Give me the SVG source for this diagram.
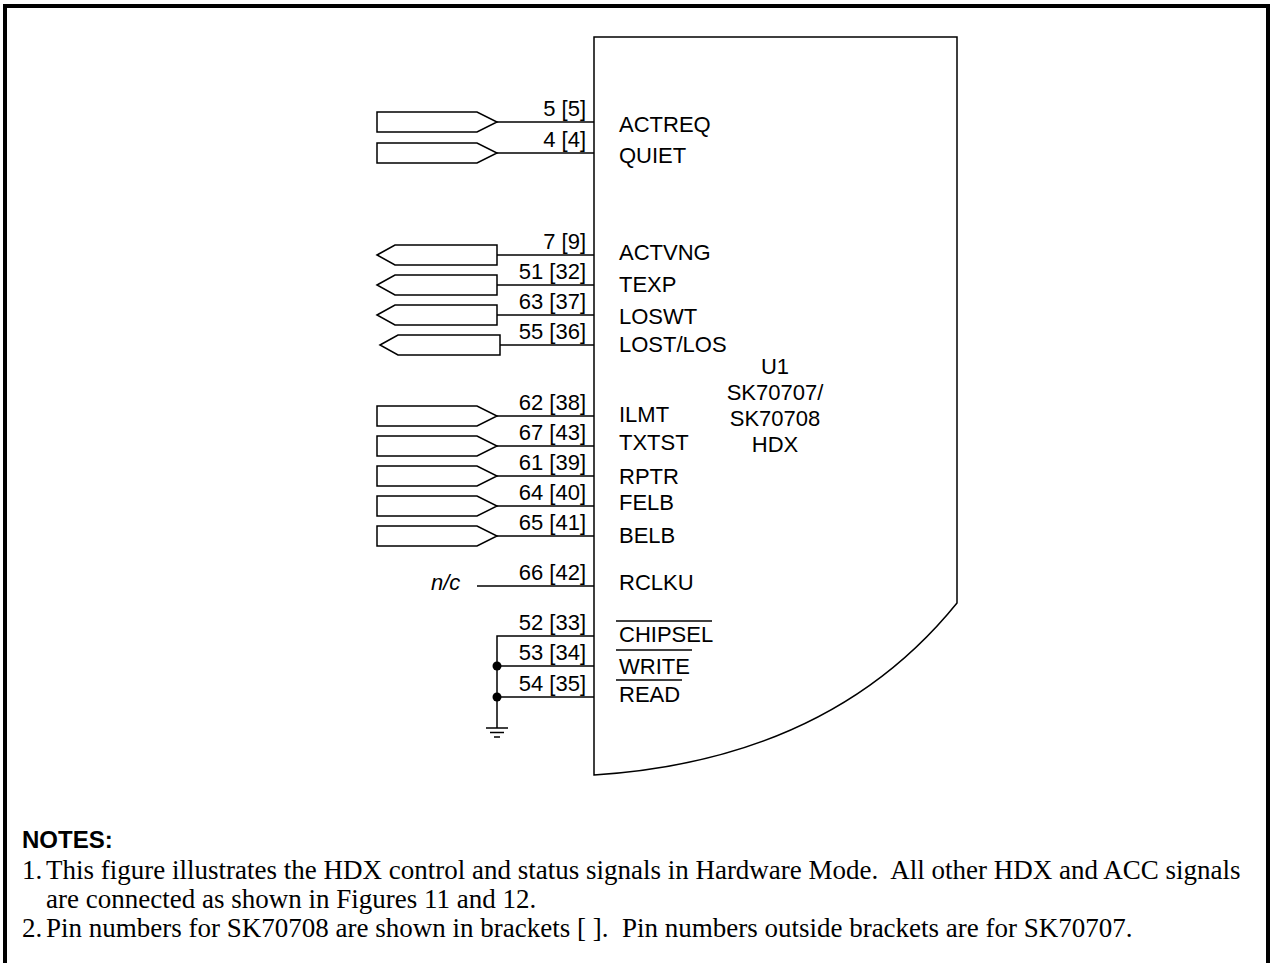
<svg xmlns="http://www.w3.org/2000/svg" xmlns:xlink="http://www.w3.org/1999/xlink" width="1273" height="963" viewBox="0 0 1273 963">
<style>
.w{stroke:#000;stroke-width:1.5;fill:none}
.port{stroke:#000;stroke-width:1.5;fill:#fff}
.t{font-family:"Liberation Sans",Arial,sans-serif;font-size:22px;fill:#000}
.pn{text-anchor:end}
.c{text-anchor:middle}
.n{font-family:"Liberation Serif","Times New Roman",serif;font-size:27px;fill:#000;white-space:pre}
.b{font-family:"Liberation Sans",Arial,sans-serif;font-size:24px;font-weight:bold;fill:#000}
</style>
<defs>
<path id="inArrow" class="port" d="M0,-10 H100 L120,0 L100,10 H0 Z"/>
<path id="outArrow" class="port" d="M0,0 L18,-10 H120 V10 H18 Z"/>
</defs>
<rect width="1273" height="963" fill="#fff"/>
<path d="M5,963 V6 H1268 V963" stroke="#000" stroke-width="4" fill="none"/>

<g id="connectors" class="w">
<line x1="497" y1="122" x2="594" y2="122"/>
<line x1="497" y1="153" x2="594" y2="153"/>
<line x1="497" y1="255" x2="594" y2="255"/>
<line x1="497" y1="285" x2="594" y2="285"/>
<line x1="497" y1="315" x2="594" y2="315"/>
<line x1="500" y1="345" x2="594" y2="345"/>
<line x1="497" y1="416" x2="594" y2="416"/>
<line x1="497" y1="446" x2="594" y2="446"/>
<line x1="497" y1="476" x2="594" y2="476"/>
<line x1="497" y1="506" x2="594" y2="506"/>
<line x1="497" y1="536" x2="594" y2="536"/>
<line x1="477" y1="586" x2="594" y2="586"/>
<path d="M594,636 H497 V728"/>
<line x1="497" y1="666" x2="594" y2="666"/>
<line x1="497" y1="697" x2="594" y2="697"/>
</g>

<g id="U1">
<path class="w" d="M594,775 V37 H957 V603 Q830,760 594,775 Z" fill="#fff"/>
<text class="t c" x="775" y="374">U1</text>
<text class="t c" x="775" y="400">SK70707/</text>
<text class="t c" x="775" y="426">SK70708</text>
<text class="t c" x="775" y="452">HDX</text>
<g class="t">
<text x="619" y="132">ACTREQ</text>
<text x="619" y="163">QUIET</text>
<text x="619" y="260">ACTVNG</text>
<text x="619" y="292">TEXP</text>
<text x="619" y="324">LOSWT</text>
<text x="619" y="352">LOST/LOS</text>
<text x="619" y="422">ILMT</text>
<text x="619" y="450">TXTST</text>
<text x="619" y="484">RPTR</text>
<text x="619" y="510">FELB</text>
<text x="619" y="543">BELB</text>
<text x="619" y="590">RCLKU</text>
<text x="619" y="642">CHIPSEL</text>
<text x="619" y="674">WRITE</text>
<text x="619" y="702">READ</text>
</g>
<g class="w">
<line x1="616" y1="621" x2="712" y2="621"/>
<line x1="616" y1="650" x2="692" y2="650"/>
<line x1="616" y1="680" x2="682" y2="680"/>
</g>
<g class="t pn">
<text x="586" y="116">5 [5]</text>
<text x="586" y="147">4 [4]</text>
<text x="586" y="249">7 [9]</text>
<text x="586" y="279">51 [32]</text>
<text x="586" y="309">63 [37]</text>
<text x="586" y="339">55 [36]</text>
<text x="586" y="410">62 [38]</text>
<text x="586" y="440">67 [43]</text>
<text x="586" y="470">61 [39]</text>
<text x="586" y="500">64 [40]</text>
<text x="586" y="530">65 [41]</text>
<text x="586" y="580">66 [42]</text>
<text x="586" y="630">52 [33]</text>
<text x="586" y="660">53 [34]</text>
<text x="586" y="691">54 [35]</text>
</g>
</g>

<g id="in-ACTREQ"><use xlink:href="#inArrow" x="377" y="122"/></g>
<g id="in-QUIET"><use xlink:href="#inArrow" x="377" y="153"/></g>
<g id="out-ACTVNG"><use xlink:href="#outArrow" x="377" y="255"/></g>
<g id="out-TEXP"><use xlink:href="#outArrow" x="377" y="285"/></g>
<g id="out-LOSWT"><use xlink:href="#outArrow" x="377" y="315"/></g>
<g id="out-LOST"><use xlink:href="#outArrow" x="380" y="345"/></g>
<g id="in-ILMT"><use xlink:href="#inArrow" x="377" y="416"/></g>
<g id="in-TXTST"><use xlink:href="#inArrow" x="377" y="446"/></g>
<g id="in-RPTR"><use xlink:href="#inArrow" x="377" y="476"/></g>
<g id="in-FELB"><use xlink:href="#inArrow" x="377" y="506"/></g>
<g id="in-BELB"><use xlink:href="#inArrow" x="377" y="536"/></g>

<g id="nc"><text class="t" x="431" y="590" font-style="italic">n/c</text></g>

<g id="junctions">
<circle cx="497" cy="666" r="4.5" fill="#000"/>
<circle cx="497" cy="697" r="4.5" fill="#000"/>
</g>

<g id="ground" class="w">
<line x1="486" y1="728" x2="508" y2="728"/>
<line x1="490" y1="732.5" x2="504" y2="732.5"/>
<line x1="494" y1="737" x2="500" y2="737"/>
</g>

<g id="notes">
<text class="b" x="22" y="848">NOTES:</text>
<text class="n" x="22" y="879">1.</text>
<text class="n" x="46" y="879">This figure illustrates the HDX control and status signals in Hardware Mode.  All other HDX and ACC signals</text>
<text class="n" x="46" y="908">are connected as shown in Figures 11 and 12.</text>
<text class="n" x="22" y="937">2.</text>
<text class="n" x="46" y="937">Pin numbers for SK70708 are shown in brackets [ ].  Pin numbers outside brackets are for SK70707.</text>
</g>
</svg>
